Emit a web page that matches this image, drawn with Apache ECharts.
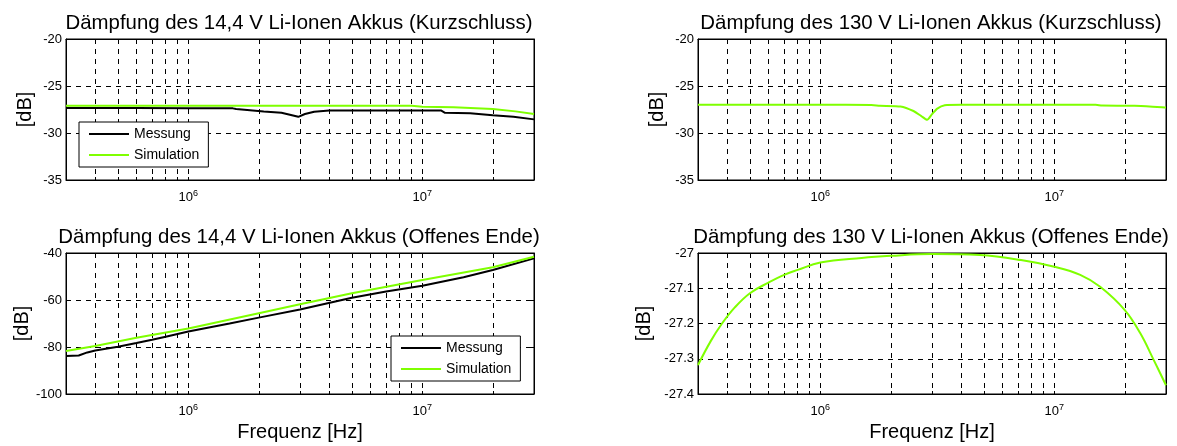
<!DOCTYPE html>
<html>
<head>
<meta charset="utf-8">
<script src="https://cdn.jsdelivr.net/npm/echarts@6/dist/echarts.min.js"></script>
<style>
  html, body { margin: 0; padding: 0; background: #fff; }
  #chart { width: 1177px; height: 446px; }
</style>
</head>
<body>
<div id="chart"></div>
<script>
// Daten (Frequenz in Hz, Dämpfung in dB)
var titles = [
    'Dämpfung des 14,4 V Li-Ionen Akkus (Kurzschluss)',
    'Dämpfung des 130 V Li-Ionen Akkus (Kurzschluss)',
    'Dämpfung des 14,4 V Li-Ionen Akkus (Offenes Ende)',
    'Dämpfung des 130 V Li-Ionen Akkus (Offenes Ende)'
];
var seriesNames = ['Messung', 'Simulation'];

// 14,4 V Kurzschluss
var fKsMess14 = [3e5, 6e5, 1e6, 1.55e6, 1.6e6, 2.1e6, 2.5e6, 2.95e6, 3.15e6, 3.45e6, 4e6, 8e6, 1.2e7, 1.25e7, 1.6e7, 2e7, 2.45e7, 3e7];
var vKsMess14 = [-27.34, -27.34, -27.37, -27.38, -27.45, -27.7, -27.85, -28.28, -27.98, -27.73, -27.6, -27.6, -27.6, -27.85, -27.9, -28.1, -28.26, -28.55];
var fKsSim14 = [3e5, 1e6, 5e6, 9e6, 1e7, 1.36e7, 2e7, 2.5e7, 3e7];
var vKsSim14 = [-27.1, -27.1, -27.1, -27.1, -27.2, -27.27, -27.45, -27.7, -27.98];

// 130 V Kurzschluss
var fKsSim130 = [3e5, 1e6, 1.65e6, 1.8e6, 2.2e6, 2.5e6, 2.7e6, 2.86e6, 3.0e6, 3.16e6, 3.4e6, 4e6, 1e7, 1.5e7, 1.6e7, 2.2e7, 3e7];
var vKsSim130 = [-27.0, -27.0, -27.02, -27.1, -27.18, -27.66, -28.2, -28.6, -28.0, -27.4, -27.05, -27.0, -27.0, -27.0, -27.08, -27.1, -27.3];

// 14,4 V Offenes Ende
var fOeMess14 = [3e5, 3.4e5, 3.7e5, 4e5, 5e5, 6e5, 7e5, 8e5, 1e6, 1.5e6, 2e6, 3e6, 5e6, 7e6, 1e7, 1.5e7, 2e7, 3e7];
var vOeMess14 = [-83.8, -83.6, -82.3, -81.5, -79.9, -78.3, -76.9, -75.6, -73.4, -70.0, -67.5, -64.0, -59.0, -56.4, -53.9, -50.3, -47.2, -42.3];
var fOeSim14 = [3e5, 4e5, 6e5, 1e6, 2e6, 3e6, 5e6, 1e7, 2e7, 3e7];
var vOeSim14 = [-81.7, -79.6, -76.1, -72.1, -65.6, -61.8, -57.1, -51.5, -46.1, -41.6];

// 130 V Offenes Ende
var fOeSim130 = [3e5, 3.4e5, 3.8e5, 4.3e5, 5e5, 6e5, 7e5, 8e5, 1e6, 1.5e6, 2e6, 3e6, 4.8e6, 7.2e6, 1e7, 1.29e7, 1.57e7, 2e7, 2.33e7, 2.66e7, 3e7];
var vOeSim130 = [-27.318, -27.25, -27.2, -27.155, -27.114, -27.084, -27.062, -27.048, -27.027, -27.014, -27.008, -27.003, -27.006, -27.02, -27.039, -27.062, -27.096, -27.162, -27.228, -27.304, -27.375];

// Achsen
var xMin = 3e5, xMax = 3e7;
var xGridValues = [4e5, 5e5, 6e5, 7e5, 8e5, 9e5, 1e6, 2e6, 3e6, 4e6, 5e6, 6e6, 7e6, 8e6, 9e6, 1e7, 2e7];
var xLabelValues = [1e6, 1e7];
var yRanges = [[-35, -20, 5], [-35, -20, 5], [-100, -40, 20], [-27.4, -27, 0.1]];

function pairs(aF, aV) {
    var aOut = [];
    for (var i = 0; i < aF.length; i++) {
        aOut.push([aF[i], aV[i]]);
    }
    return aOut;
}

var sFont = 'Liberation Sans, Arial, sans-serif';
var sGreen = '#7fff00';
// Lage der vier Diagramme (links, oben)
var aPos = [[66, 39], [698, 39], [66, 253], [698, 253]];
var iW = 468, iH = 141;

var aGrid = [], aXAxis = [], aYAxis = [], aTitle = [];
for (var i = 0; i < 4; i++) {
    aGrid.push({
        left: aPos[i][0], top: aPos[i][1], width: iW, height: iH,
        show: true, borderColor: '#000', borderWidth: 1, backgroundColor: 'transparent'
    });
    aTitle.push({
        text: titles[i],
        left: aPos[i][0] + iW / 2 - 1,
        top: aPos[i][1] - 26,
        textAlign: 'center',
        padding: 0,
        textStyle: {fontFamily: sFont, fontSize: 20.4, fontWeight: 'normal', color: '#000'}
    });
    aXAxis.push({
        type: 'log', logBase: 10, gridIndex: i, min: xMin, max: xMax,
        name: i >= 2 ? 'Frequenz [Hz]' : '',
        nameLocation: 'middle', nameGap: 28,
        nameTextStyle: {fontFamily: sFont, fontSize: 20, color: '#000'},
        axisLine: {show: true, onZero: false, lineStyle: {color: '#000', width: 1}},
        axisTick: {show: true, inside: true, length: 3, customValues: xGridValues, lineStyle: {color: '#000'}},
        axisLabel: {
            show: true, customValues: xLabelValues, margin: 9, color: '#000',
            fontFamily: sFont, fontSize: 13,
            formatter: function (v) {
                return '{b|10}{s|' + Math.round(Math.log(v) / Math.LN10) + '}';
            },
            rich: {
                b: {fontFamily: sFont, fontSize: 13, lineHeight: 16, color: '#000'},
                s: {fontFamily: sFont, fontSize: 9, verticalAlign: 'top', color: '#000'}
            }
        },
        splitLine: {show: true, lineStyle: {color: '#000', width: 1, type: [5, 5]}},
        minorTick: {show: false}
    });
    aYAxis.push({
        type: 'value', gridIndex: i,
        min: yRanges[i][0], max: yRanges[i][1], interval: yRanges[i][2],
        name: '[dB]', nameLocation: 'middle', nameGap: i === 3 ? 44 : 31,
        nameTextStyle: {fontFamily: sFont, fontSize: 20, color: '#000'},
        axisLine: {show: true, onZero: false, lineStyle: {color: '#000', width: 1}},
        axisTick: {show: true, inside: true, length: 3, lineStyle: {color: '#000'}},
        axisLabel: {
            show: true, margin: 4, color: '#000', fontFamily: sFont, fontSize: 13,
            formatter: function (v) { return String(Math.round(v * 10) / 10); }
        },
        splitLine: {show: true, lineStyle: {color: '#000', width: 1, type: [5, 5]}}
    });
}
// Spiegel-Achsen oben und rechts, nur fuer die Striche nach innen
for (var i = 0; i < 4; i++) {
    aXAxis.push({
        type: 'log', logBase: 10, gridIndex: i, min: xMin, max: xMax, position: 'top',
        axisLine: {show: true, onZero: false, lineStyle: {color: '#000', width: 1}},
        axisTick: {show: true, inside: true, length: 3, customValues: xGridValues, lineStyle: {color: '#000'}},
        axisLabel: {show: false},
        splitLine: {show: false}
    });
    aYAxis.push({
        type: 'value', gridIndex: i, position: 'right',
        min: yRanges[i][0], max: yRanges[i][1], interval: yRanges[i][2],
        axisLine: {show: true, onZero: false, lineStyle: {color: '#000', width: 1}},
        axisTick: {show: true, inside: true, length: 3, lineStyle: {color: '#000'}},
        axisLabel: {show: false},
        splitLine: {show: false}
    });
}

function lineSeries(sName, aData, iGrid, sColor) {
    return {
        name: sName, type: 'line', xAxisIndex: iGrid, yAxisIndex: iGrid,
        data: aData, symbol: 'none', showSymbol: false, smooth: false,
        animation: false,
        lineStyle: {color: sColor, width: 2},
        itemStyle: {color: sColor}
    };
}

var aSeries = [
    lineSeries('Messung', pairs(fKsMess14, vKsMess14), 0, '#000'),
    lineSeries('Simulation', pairs(fKsSim14, vKsSim14), 0, sGreen),
    lineSeries('Simulation', pairs(fKsSim130, vKsSim130), 1, sGreen),
    lineSeries('Messung', pairs(fOeMess14, vOeMess14), 2, '#000'),
    lineSeries('Simulation', pairs(fOeSim14, vOeSim14), 2, sGreen),
    lineSeries('Simulation', pairs(fOeSim130, vOeSim130), 3, sGreen)
];
aSeries[5].smooth = 0.4;
aSeries[2].smooth = 0.2;

function legendAt(iLeft, iTop) {
    return {
        data: seriesNames, orient: 'vertical', left: iLeft, top: iTop,
        padding: [5, 9, 5, 9], itemGap: 7, itemWidth: 40, itemHeight: 14,
        borderColor: '#000', borderWidth: 1, backgroundColor: '#fff',
        selectedMode: false,
        // nur die Linie zeigen, kein Symbol
        itemStyle: {opacity: 0, borderWidth: 0},
        textStyle: {fontFamily: sFont, fontSize: 14, color: '#000'}
    };
}

var jOption = {
    animation: false,
    backgroundColor: '#fff',
    title: aTitle,
    grid: aGrid,
    xAxis: aXAxis,
    yAxis: aYAxis,
    legend: [legendAt(79, 122), legendAt(391, 336)],
    series: aSeries
};

var myChart = echarts.init(document.getElementById('chart'), null, {renderer: 'canvas'});
myChart.setOption(jOption);
</script>
</body>
</html>
